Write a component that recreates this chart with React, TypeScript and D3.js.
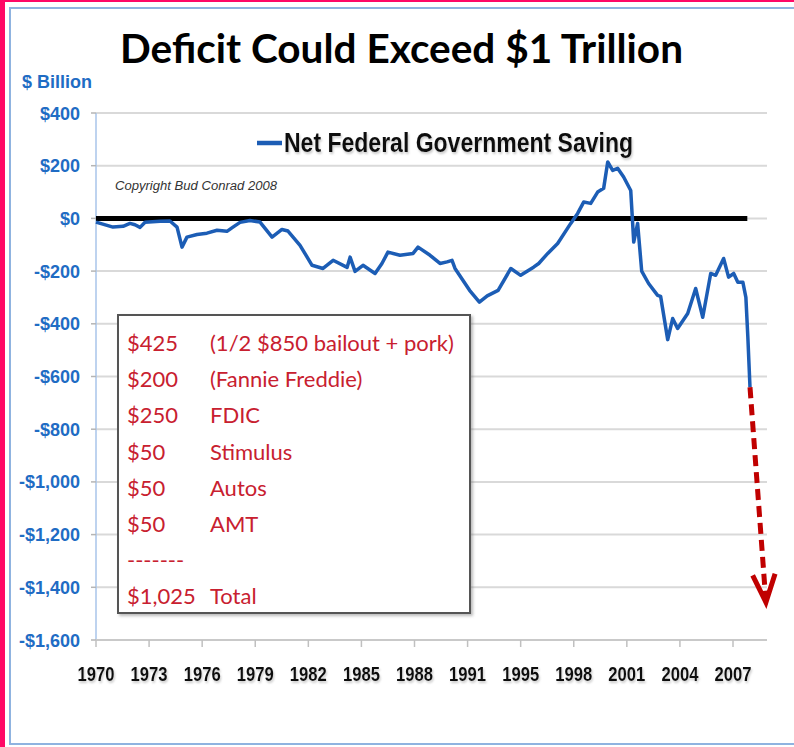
import React, { useRef, useEffect } from 'react';
import * as d3 from 'd3';

// x axis labels (category style axis, equally spaced)
const tickYears = [1970, 1973, 1976, 1979, 1982, 1985, 1988, 1991, 1995, 1998, 2001, 2004, 2007];
const axisEndYear = 2008.9;

const yTicks = [400, 200, 0, -200, -400, -600, -800, -1000, -1200, -1400, -1600];

// Net Federal Government Saving, $ billion
const savingYears = [
  1970.00, 1970.96, 1971.53, 1971.92, 1972.20, 1972.49, 1972.77, 1973.62, 1974.18, 1974.58,
  1974.86, 1975.14, 1975.71, 1976.27, 1976.84, 1977.40, 1977.74, 1978.14, 1978.70, 1979.27,
  1979.95, 1980.51, 1980.85, 1981.53, 1982.21, 1982.83, 1983.40, 1984.19, 1984.36, 1984.64,
  1985.09, 1985.77, 1986.16, 1986.50, 1987.18, 1987.92, 1988.20, 1988.88, 1989.44, 1989.84,
  1990.12, 1990.29, 1991.15, 1991.89, 1992.48, 1993.30, 1994.26, 1995.00, 1995.73, 1996.02,
  1996.53, 1997.09, 1997.83, 1998.22, 1998.56, 1998.96, 1999.35, 1999.69, 1999.92, 2000.20,
  2000.48, 2000.82, 2001.22, 2001.39, 2001.61, 2001.84, 2002.23, 2002.74, 2002.91, 2003.31,
  2003.59, 2003.87, 2004.44, 2004.89, 2005.29, 2005.74, 2006.02, 2006.47, 2006.75, 2007.04,
  2007.27, 2007.55, 2007.72, 2007.83, 2007.95,
];
const savingValues = [
  -14, -33, -30, -19, -24, -34, -15, -11, -10, -33,
  -109, -71, -61, -56, -45, -49, -33, -15, -8, -14,
  -71, -42, -48, -102, -178, -190, -159, -186, -147, -201,
  -178, -209, -171, -128, -140, -133, -109, -140, -171, -165,
  -159, -190, -273, -318, -294, -273, -190, -216, -185, -171,
  -133, -95, -19, 19, 62, 57, 100, 114, 214, 182,
  190, 157, 106, -90, -19, -200, -247, -292, -296, -460,
  -380, -418, -361, -266, -375, -209, -216, -152, -223, -209,
  -242, -242, -300, -451, -641,
];

const zeroLineYears = [1970, 2007.8];
const arrowYears = [2007.95, 2008.84];
const arrowValues = [-641, -1457];

const boxAmounts = ['$425', '$200', '$250', '$50', '$50', '$50', '-------', '$1,025'];
const boxItems = ['(1/2 $850 bailout + pork)', '(Fannie Freddie)', 'FDIC', 'Stimulus', 'Autos', 'AMT', '', 'Total'];

const width = 794;
const height = 747;
const margin = { top: 113, right: 27, bottom: 107, left: 96 };

const blue = '#1c5db5';
const labelBlue = '#1f6cc4';
const red = '#c8202f';
const sans = '"Liberation Sans", Arial, sans-serif';
const calibri = 'Lato, "Open Sans", sans-serif';

const App: React.FC = () => {
  const svgRef = useRef<SVGSVGElement>(null);

  useEffect(() => {
    if (!svgRef.current) return;
    const svg = d3.select(svgRef.current);
    svg.selectAll('*').remove();

    const plotRight = width - margin.right;
    const plotBottom = height - margin.bottom;
    const tickStep = (733 - margin.left) / (tickYears.length - 1);

    const xScale = d3.scaleLinear()
      .domain([...tickYears, axisEndYear])
      .range([...tickYears.map((_, i) => margin.left + i * tickStep), plotRight]);

    const yScale = d3.scaleLinear()
      .domain([-1600, 400])
      .range([plotBottom, margin.top]);

    const defs = svg.append('defs');
    const shadow = defs.append('filter').attr('id', 'txtShadow')
      .attr('x', '-10%').attr('y', '-20%').attr('width', '120%').attr('height', '160%');
    shadow.append('feDropShadow')
      .attr('dx', 1).attr('dy', 2).attr('stdDeviation', 1.2)
      .attr('flood-color', '#888').attr('flood-opacity', 0.45);
    const boxShadow = defs.append('filter').attr('id', 'boxShadow')
      .attr('x', '-5%').attr('y', '-5%').attr('width', '115%').attr('height', '115%');
    boxShadow.append('feDropShadow')
      .attr('dx', 2).attr('dy', 2).attr('stdDeviation', 1.5)
      .attr('flood-color', '#777').attr('flood-opacity', 0.5);

    // page frame
    svg.append('rect').attr('width', width).attr('height', height).attr('fill', '#fff');
    svg.append('rect').attr('x', 0).attr('y', 0).attr('width', 5).attr('height', height).attr('fill', '#ff0866');
    svg.append('rect').attr('x', 0).attr('y', 0).attr('width', width).attr('height', 2).attr('fill', '#ff0866');
    svg.append('rect')
      .attr('x', 10).attr('y', 8).attr('width', width + 20).attr('height', 736)
      .attr('fill', 'none').attr('stroke', '#8fb3e0').attr('stroke-width', 2);

    // title
    svg.append('text')
      .attr('x', 120).attr('y', 63)
      .attr('textLength', 563).attr('lengthAdjust', 'spacingAndGlyphs')
      .attr('font-family', calibri).attr('font-weight', 700).attr('font-size', 41)
      .attr('fill', '#000')
      .text('Deficit Could Exceed $1 Trillion');

    svg.append('text')
      .attr('x', 22).attr('y', 88)
      .attr('font-family', sans).attr('font-weight', 700).attr('font-size', 18)
      .attr('fill', labelBlue)
      .text('$ Billion');

    // gridlines
    svg.append('g').selectAll('line')
      .data(yTicks.filter(d => d !== -1600))
      .join('line')
      .attr('x1', margin.left).attr('x2', plotRight)
      .attr('y1', d => yScale(d)).attr('y2', d => yScale(d))
      .attr('stroke', '#d9d9d9').attr('stroke-width', 2);

    // y axis
    svg.append('line')
      .attr('x1', margin.left).attr('x2', margin.left)
      .attr('y1', margin.top).attr('y2', plotBottom)
      .attr('stroke', '#a8c5ea').attr('stroke-width', 1.5);
    svg.append('g').selectAll('line')
      .data(yTicks)
      .join('line')
      .attr('x1', margin.left - 5).attr('x2', margin.left)
      .attr('y1', d => yScale(d)).attr('y2', d => yScale(d))
      .attr('stroke', '#b5b5b5').attr('stroke-width', 1.5);

    const fmt = d3.format(',');
    svg.append('g').selectAll('text')
      .data(yTicks)
      .join('text')
      .attr('x', 80).attr('y', d => yScale(d) + 6.5)
      .attr('text-anchor', 'end')
      .attr('font-family', sans).attr('font-weight', 700).attr('font-size', 18)
      .attr('fill', labelBlue)
      .text(d => (d < 0 ? '-$' : '$') + fmt(Math.abs(d)));

    // x axis
    svg.append('line')
      .attr('x1', margin.left).attr('x2', plotRight)
      .attr('y1', plotBottom).attr('y2', plotBottom)
      .attr('stroke', '#c9c9c9').attr('stroke-width', 2);
    svg.append('g').selectAll('line')
      .data(tickYears)
      .join('line')
      .attr('x1', d => xScale(d)).attr('x2', d => xScale(d))
      .attr('y1', plotBottom).attr('y2', plotBottom + 7)
      .attr('stroke', '#c0c0c0').attr('stroke-width', 1.5);
    svg.append('g').attr('filter', 'url(#txtShadow)').selectAll('text')
      .data(tickYears)
      .join('text')
      .attr('x', d => xScale(d) - 18.5).attr('y', 681)
      .attr('textLength', 37).attr('lengthAdjust', 'spacingAndGlyphs')
      .attr('font-family', sans).attr('font-weight', 700).attr('font-size', 21)
      .attr('fill', '#111')
      .text(d => d);

    // copyright
    svg.append('text')
      .attr('x', 115).attr('y', 190)
      .attr('textLength', 162).attr('lengthAdjust', 'spacingAndGlyphs')
      .attr('font-family', sans).attr('font-style', 'italic').attr('font-size', 12)
      .attr('fill', '#333')
      .text('Copyright Bud Conrad  2008');

    // legend
    svg.append('line')
      .attr('x1', 257).attr('x2', 282).attr('y1', 143).attr('y2', 143)
      .attr('stroke', blue).attr('stroke-width', 4.5);
    svg.append('text')
      .attr('x', 284).attr('y', 152)
      .attr('textLength', 349).attr('lengthAdjust', 'spacingAndGlyphs')
      .attr('font-family', sans).attr('font-weight', 700).attr('font-size', 28)
      .attr('fill', '#111').attr('filter', 'url(#txtShadow)')
      .text('Net Federal Government Saving');

    // zero line
    svg.append('line')
      .attr('x1', xScale(zeroLineYears[0])).attr('x2', xScale(zeroLineYears[1]))
      .attr('y1', yScale(0)).attr('y2', yScale(0))
      .attr('stroke', '#000').attr('stroke-width', 5);

    // saving line
    const line = d3.line<number>()
      .x((_, i) => xScale(savingYears[i]))
      .y(d => yScale(d));
    svg.append('path')
      .datum(savingValues)
      .attr('fill', 'none')
      .attr('stroke', blue)
      .attr('stroke-width', 3.5)
      .attr('stroke-linejoin', 'round')
      .attr('d', line);

    // projection arrow
    const ax0 = xScale(arrowYears[0]);
    const ay0 = yScale(arrowValues[0]);
    const ax1 = xScale(arrowYears[1]);
    const ay1 = yScale(arrowValues[1]);
    const len = Math.hypot(ax1 - ax0, ay1 - ay0);
    const ux = (ax1 - ax0) / len;
    const uy = (ay1 - ay0) / len;
    svg.append('line')
      .attr('x1', ax0).attr('y1', ay0)
      .attr('x2', ax1 - ux * 4).attr('y2', ay1 - uy * 4)
      .attr('stroke', '#c00000').attr('stroke-width', 5)
      .attr('stroke-dasharray', '11,6');
    const wing = 30;
    const ang = 22 * Math.PI / 180;
    const rot = (a: number) => [
      ax1 - wing * (ux * Math.cos(a) - uy * Math.sin(a)),
      ay1 - wing * (ux * Math.sin(a) + uy * Math.cos(a)),
    ];
    const w1 = rot(ang);
    const w2 = rot(-ang);
    svg.append('path')
      .attr('d', `M${w1[0]},${w1[1]}L${ax1},${ay1}L${w2[0]},${w2[1]}`)
      .attr('fill', 'none').attr('stroke', '#c00000').attr('stroke-width', 5)
      .attr('stroke-linejoin', 'miter');

    // annotation box
    svg.append('rect')
      .attr('x', 118).attr('y', 315).attr('width', 352).attr('height', 298)
      .attr('fill', '#fff').attr('stroke', '#555').attr('stroke-width', 2)
      .attr('filter', 'url(#boxShadow)');
    const rows = svg.append('g')
      .attr('font-family', calibri).attr('font-size', 22).attr('fill', red);
    rows.selectAll('text.amt')
      .data(boxAmounts)
      .join('text')
      .attr('class', 'amt')
      .attr('x', 127).attr('y', (_, i) => 351 + i * 36.2)
      .text(d => d);
    rows.selectAll('text.item')
      .data(boxItems)
      .join('text')
      .attr('class', 'item')
      .attr('x', 210).attr('y', (_, i) => 351 + i * 36.2)
      .text(d => d);
  }, []);

  return (
    <svg
      ref={svgRef}
      width={width}
      height={height}
      viewBox={`0 0 ${width} ${height}`}
      style={{ position: 'absolute', left: 0, top: 0, display: 'block' }}
    ></svg>
  );
};

export default App;
